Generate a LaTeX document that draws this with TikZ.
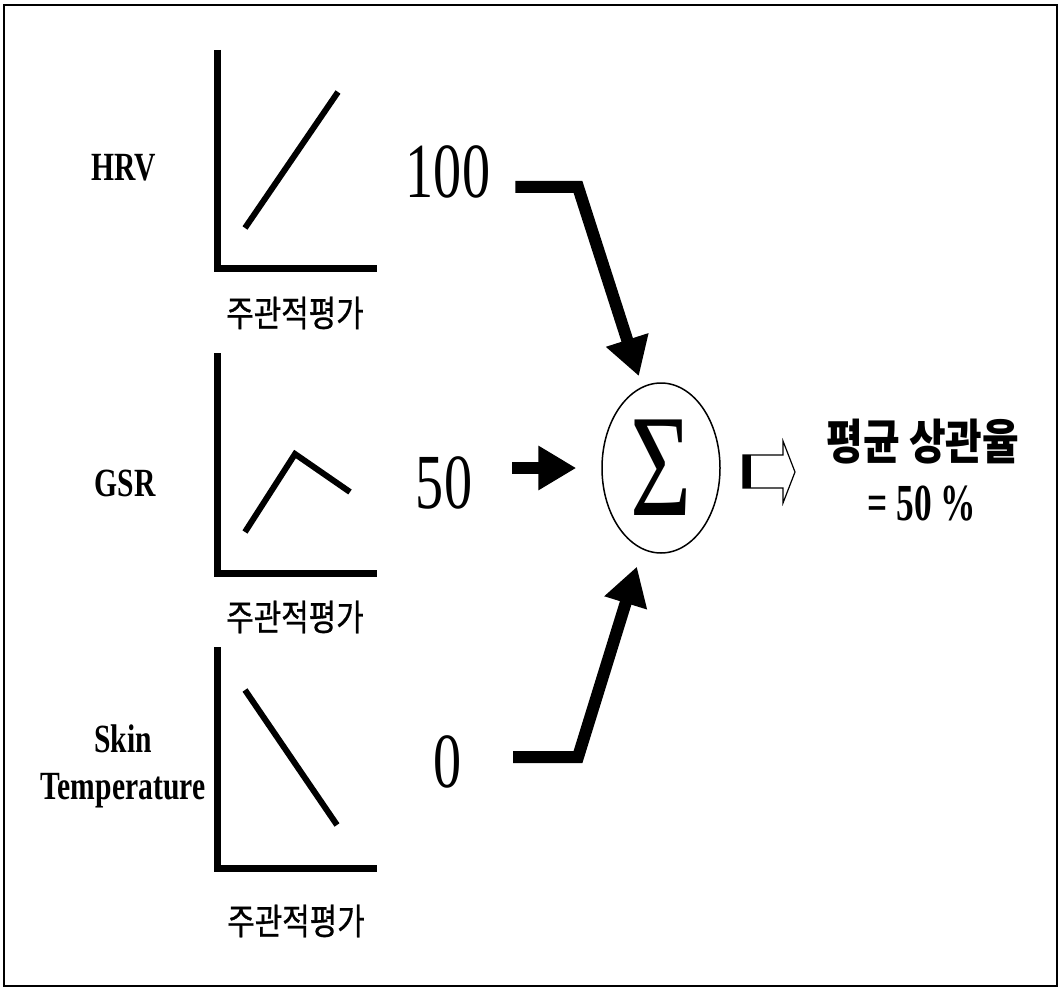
\documentclass[tikz,border=0pt]{standalone}
\usepackage{fontspec}
\setmainfont{Liberation Serif}
\newfontfamily\lblfont[FakeStretch=0.74]{Liberation Serif}
\newfontfamily\valfont[FakeStretch=0.68]{Liberation Serif}
\newfontfamily\numfont[FakeStretch=0.72]{Liberation Serif}
\newfontfamily\kofont[FakeStretch=0.83,FakeBold=0.8]{Noto Sans CJK KR}
\newfontfamily\kobfont[FakeStretch=0.83]{Noto Sans CJK KR}
\usetikzlibrary{arrows.meta,shapes.geometric}

\begin{document}
\begin{tikzpicture}[x=1pt, y=-1pt,
		axisline/.style={line width=7pt},
		curve/.style={line width=6pt},
		sumarrow/.style={line width=12pt, -{Triangle[length=38pt,width=42pt]}},
		lbl/.style={font=\lblfont\bfseries\fontsize{40}{47}\selectfont, align=center, inner sep=0pt},
		num/.style={font=\numfont\fontsize{78}{78}\selectfont, inner sep=0pt},
		ko/.style={font=\kofont\fontsize{36}{40}\selectfont, inner sep=0pt}]
		\useasboundingbox (0,0) rectangle (1060,987);
		
		% --- 1. Khung ngoài ---
		\draw[line width=2.8pt] (4,5) rectangle (1057,986);
		
		% --- 2. Tọa độ các điểm gấp của mũi tên ---
		\coordinate (k100) at (578,187);
		\coordinate (k0) at (578,757);
		
		% --- 3. Ba đồ thị nhỏ ---
		% HRV
		\draw[axisline] (217,50) -- (217,268) -- (377,268);
		\draw[curve] (245,228) -- (338,92);
		% GSR
		\draw[axisline] (217,353) -- (217,573) -- (377,573);
		\draw[curve] (245,532) -- (295,454) -- (350,492);
		% Skin Temperature
		\draw[axisline] (217,647) -- (217,868) -- (377,868);
		\draw[curve] (245,690) -- (337,825);
		
		% --- 4. Nhãn ---
		\node[lbl] (hrv) at (124,168) {HRV};
		\node[lbl] (gsr) at (125,483) {GSR};
		\node[lbl] (skin) at (123,766) {Skin\\Temperature};
		
		\node[ko] (eval1) at (295,313) {주관적평가};
		\node[ko] (eval2) at (295,617) {주관적평가};
		\node[ko] (eval3) at (296,921) {주관적평가};
		
		\node[num] (n100) at (448,172) {100};
		\node[num] (n50) at (444,483) {50};
		\node[num] (n0) at (448,762) {0};
		
		% --- 5. Nút tổng ---
		\node[ellipse, draw, line width=1.5pt, minimum width=118pt, minimum height=170pt,
			inner sep=0pt, font=\numfont\fontsize{146}{146}\selectfont] (sum) at (661,468) {\raisebox{-6pt}{Σ}};
		
		% --- 6. Mũi tên ---
		\draw[sumarrow, shorten <=25pt, shorten >=11pt] (n100.east |- k100) -- (k100) -- (sum.103);
		\draw[sumarrow, shorten <=40pt, shorten >=25pt] (n50.east |- sum.west) -- (sum.west);
		\draw[sumarrow, shorten <=51pt, shorten >=18pt] (n0.east |- k0) -- (k0) -- (sum.257);
		
		% mũi tên rỗng
		\draw[line width=1.2pt] (743,455) -- (783,455) -- (783,441) -- (795,472)
			-- (783,503) -- (783,488) -- (743,488) -- cycle;
		\fill (743,455) rectangle (751,488);
		
		% --- 7. Kết quả ---
		\node[ko, font=\kobfont\bfseries\fontsize{48}{52}\selectfont] (res) at (923,442) {평균 상관율};
		\node[lbl, font=\valfont\bfseries\fontsize{52}{52}\selectfont] (val) at (922,504) {= 50 \%};
	\end{tikzpicture}
\end{document}
